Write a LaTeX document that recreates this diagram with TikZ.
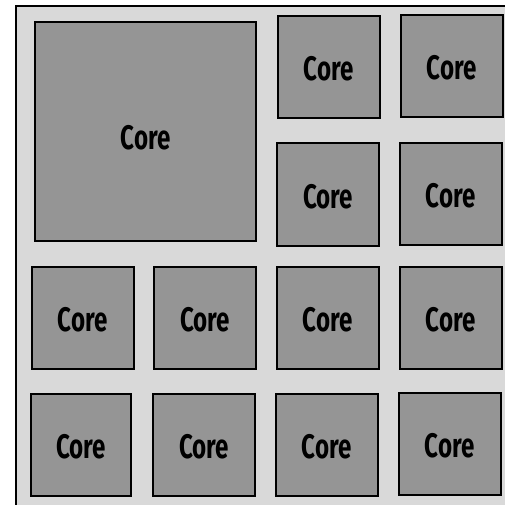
\documentclass[tikz,border=0pt]{standalone}
\usepackage{fontspec}
\newfontfamily\corefont[FakeStretch=0.71]{Fira Sans}
\definecolor{bgray}{RGB}{217,217,217}
\definecolor{cgray}{RGB}{149,149,149}
\begin{document}
\begin{tikzpicture}[x=1pt,y=-1pt,
  core/.style={draw=black, fill=cgray, line width=2pt, rectangle,
    minimum width=102pt, minimum height=102pt, inner sep=0pt,
    text height=27pt, text depth=0pt,
    font=\corefont\bfseries\fontsize{34}{34}\selectfont, text=black},
  coretext/.style={font=\corefont\bfseries\fontsize{34}{34}\selectfont, text=black, inner sep=0pt}]
\useasboundingbox (0,0) rectangle (505,505);
\clip (0,0) rectangle (505,505);
\fill[white] (0,0) rectangle (505,505);
\draw[fill=bgray, line width=2pt] (16,6) rectangle (530,530);
% big core
\node[core, minimum width=221pt, minimum height=219pt,
  label={[coretext, yshift=-6.5pt]center:Core}] (big) at (145.5,131.5) {};
% row 1
\node[core] (r1c3) at (328.8,67) {Core};
\node[core] (r1c4) at (451.5,66.5) {Core};
% row 2
\node[core] (r2c3) at (328.3,194.5) {Core};
\node[core] (r2c4) at (450.5,194) {Core};
% row 3
\node[core] (r3c1) at (82.8,317.8) {Core};
\node[core] (r3c2) at (205.3,317.8) {Core};
\node[core] (r3c3) at (327.5,317.5) {Core};
\node[core] (r3c4) at (450.5,317.5) {Core};
% row 4
\node[core, minimum width=100pt] (r4c1) at (81,445) {Core};
\node[core] (r4c2) at (204.3,445) {Core};
\node[core] (r4c3) at (326.8,444.7) {Core};
\node[core] (r4c4) at (449.5,443.8) {Core};
\end{tikzpicture}
\end{document}
